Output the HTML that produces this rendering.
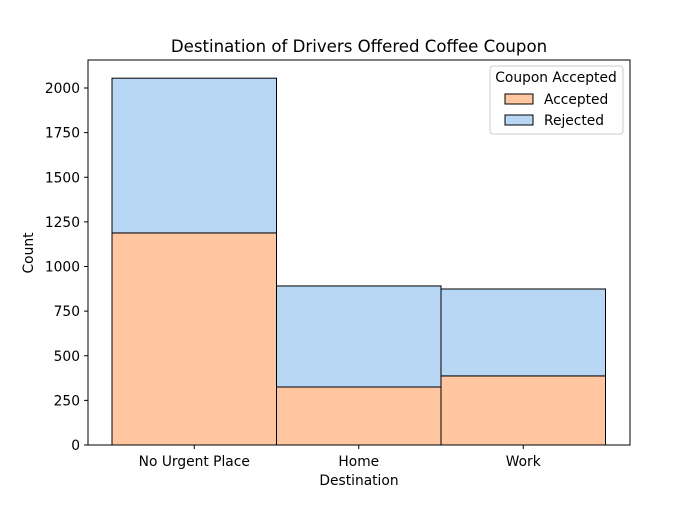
<!DOCTYPE html>
<html><head><meta charset="utf-8"><style>
body{margin:0;background:#fff;font-family:"Liberation Sans","DejaVu Sans",sans-serif;}
svg text{font-family:"DejaVu Sans","Liberation Sans",sans-serif;}
</style></head><body>
<svg id="chart" width="700" height="500" xmlns="http://www.w3.org/2000/svg">
<rect width="700" height="500" fill="#fff"/>
<text x="359" y="52" font-size="16.6" text-anchor="middle">Destination of Drivers Offered Coffee Coupon</text>
<g id="bars"></g>
<g id="yticks"></g>
<g id="xticks"></g>
<rect x="88" y="60" width="542" height="385" fill="none" stroke="#000" stroke-width="1"/>
<text x="359" y="485" font-size="13.8" text-anchor="middle">Destination</text>
<text x="33" y="253" font-size="13.8" text-anchor="middle" transform="rotate(-90 33 253)">Count</text>
<g>
<rect x="490" y="66" width="133" height="68" rx="3" fill="#fff" stroke="#ccc"/>
<text x="556" y="82" font-size="13.8" text-anchor="middle">Coupon Accepted</text>
<rect x="505" y="94" width="28" height="10" fill="#ffc6a0" stroke="#000"/>
<text x="544" y="104" font-size="13.8">Accepted</text>
<rect x="505" y="115" width="28" height="10" fill="#b7d7f5" stroke="#000"/>
<text x="544" y="125" font-size="13.8">Rejected</text>
</g>
</svg>
<script>
const categories=["No Urgent Place","Home","Work"];
const accepted=[1188,325,387];
const rejected=[867,566,487];
const yTicks=[0,250,500,750,1000,1250,1500,1750,2000];
const NS="http://www.w3.org/2000/svg";
const y0=445,yScale=357/2000;
function y(v){return y0-v*yScale;}
const bx0=112,bw=164.5;
function x(i){return bx0+i*bw;}
function mk(tag,attrs,parent){const e=document.createElementNS(NS,tag);for(const k in attrs)e.setAttribute(k,attrs[k]);document.getElementById(parent).appendChild(e);return e;}
categories.forEach((c,i)=>{
 const a=accepted[i],r=rejected[i];
 let e=mk('rect',{x:x(i),y:y(a),width:bw,height:a*yScale,fill:'#ffc6a0',stroke:'#000','stroke-width':1},'bars');
 
 
 e=mk('rect',{x:x(i),y:y(a+r),width:bw,height:r*yScale,fill:'#b7d7f5',stroke:'#000','stroke-width':1},'bars');
 
 
 const cx=x(i)+bw/2;
 e=mk('line',{x1:cx,x2:cx,y1:445,y2:449,stroke:'#000'},'xticks');
 
 
 e=mk('text',{x:cx,y:466,'font-size':13.8,'text-anchor':'middle'},'xticks');
 e.textContent=c;
 
 
});
yTicks.forEach(t=>{
 let e=mk('line',{x1:84,x2:88,y1:y(t),y2:y(t),stroke:'#000'},'yticks');
 
 
 e=mk('text',{x:80,y:y(t)+5,'font-size':13.8,'text-anchor':'end'},'yticks');
 e.textContent=t;
 
 
});
</script>
</body></html>
